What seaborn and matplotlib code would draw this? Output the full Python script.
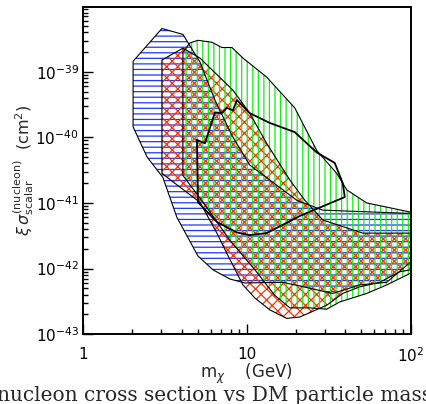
import numpy as np
import matplotlib
matplotlib.use("Agg")
import matplotlib.pyplot as plt
import seaborn as sns

# DM mass (GeV) and log10 of cross section (cm^2) along each region boundary
blue_mass = [3.03, 4.07, 5.17, 6.38, 8.11, 10.4, 20.2, 29.1, 100, 100, 71.4, 48.9,
             33.4, 24.2, 16.6, 9.72, 7.88, 6.21, 5.03, 3.74, 3.07, 2.46, 2.02, 2.02]
blue_logsig = [-38.34, -38.43, -38.85, -39.43, -39.97, -40.42, -40.96, -41.11, -41.16,
               -41.90, -42.21, -42.25, -42.38, -42.30, -42.21, -42.22, -42.16, -42.02,
               -41.81, -41.22, -40.61, -40.30, -39.84, -38.84]

red_mass = [4.07, 5.17, 8.22, 10.4, 13.2, 18.3, 22.6, 29.1, 51.0, 100, 100, 85.7, 64.7,
            48.9, 38.5, 30.7, 21.0, 17.5, 13.8, 11.2, 9.46, 7.55, 6.56, 5.17, 3.03, 3.03]
red_logsig = [-38.64, -38.79, -39.28, -39.63, -40.09, -40.65, -40.96, -41.26, -41.46,
              -41.46, -42.02, -42.05, -42.21, -42.28, -42.38, -42.56, -42.74, -42.76,
              -42.63, -42.45, -42.25, -41.77, -41.46, -40.99, -40.55, -38.82]

green_mass = [4.07, 4.49, 5.03, 6.12, 7.04, 8.11, 9.46, 13.2, 19.6, 26.7, 35.4, 40.7, 53.9,
              100, 100, 71.4, 53.9, 36.9, 30.7, 24.2, 18.3, 14.8, 11.2, 7.88, 5.55, 4.07]
green_logsig = [-38.70, -38.56, -38.52, -38.55, -38.63, -38.63, -38.79, -39.08, -39.55,
                -40.20, -40.55, -40.80, -41.00, -41.14, -42.07, -42.25, -42.38, -42.51,
                -42.62, -42.60, -42.60, -42.41, -42.02, -41.57, -41.03, -40.58]

black_mass = [4.96, 5.55, 6.38, 7.04, 7.55, 8.22, 8.69, 10.4, 13.8, 19.6, 26.7, 34.4,
              38.5, 39.6, 21.0, 13.2, 10.4, 8.69, 6.56, 5.03, 4.96]
black_logsig = [-40.04, -40.09, -39.62, -39.63, -39.55, -39.59, -39.43, -39.63, -39.78,
                -39.92, -40.23, -40.39, -40.70, -40.91, -41.20, -41.46, -41.49, -41.45,
                -41.29, -40.99, -40.04]

xtick_vals = [1, 10, 100]
xtick_labels = ["1", "10", "$10^{2}$"]

sns.set_style("ticks")
plt.rcParams["hatch.linewidth"] = 0.9
plt.rcParams["mathtext.fontset"] = "dejavusans"

fig = plt.figure(figsize=(4.26, 4.04), dpi=100)
ax = fig.add_axes([0.195, 0.173, 0.769, 0.81])

regions = [
    (blue_mass, blue_logsig, "#1a3aff", "---"),
    (red_mass, red_logsig, "#ff3000", "xxx"),
    (green_mass, green_logsig, "#11ee11", "|||"),
]
for m, ls, col, hatch in regions:
    sig = 10 ** np.array(ls)
    ax.fill(m, sig, facecolor="none", edgecolor=col, hatch=hatch, linewidth=0)
for m, ls, col, hatch in regions:
    sig = 10 ** np.array(ls)
    ax.fill(m, sig, facecolor="none", edgecolor="black", linewidth=0.8)

sns.lineplot(x=black_mass, y=10 ** np.array(black_logsig), sort=False,
             estimator=None, color="black", linewidth=1.3, ax=ax)

ax.set_xscale("log")
ax.set_yscale("log")
ax.set_xlim(1, 100)
ax.set_ylim(1e-43, 10 ** -38.01)
ax.set_xticks(xtick_vals, labels=xtick_labels)

for s in ax.spines.values():
    s.set_linewidth(1.4)
    s.set_color("black")
ax.tick_params(which="both", direction="in", top=False, right=False, width=1, colors="black")
ax.tick_params(which="major", length=7, labelsize=11)
ax.tick_params(which="minor", length=3.5)
ax.tick_params(axis="x", which="major", pad=9)
ax.tick_params(axis="y", which="major", pad=3)

ax.set_xlabel(r"m$_\chi$    (GeV)", fontsize=12)
ax.set_ylabel(r"$\xi\,\sigma^{(\mathrm{nucleon})}_{\mathrm{scalar}}$  (cm$^2$)", fontsize=11.5)
ax.xaxis.set_label_coords(0.5, -0.085)
ax.yaxis.set_label_coords(-0.145, 0.5)

fig.text(-0.006, 0.007, "nucleon cross section vs DM particle mass",
         family="DejaVu Serif", fontsize=14.5, ha="left", va="baseline")

fig.savefig("out.png", dpi=100)
